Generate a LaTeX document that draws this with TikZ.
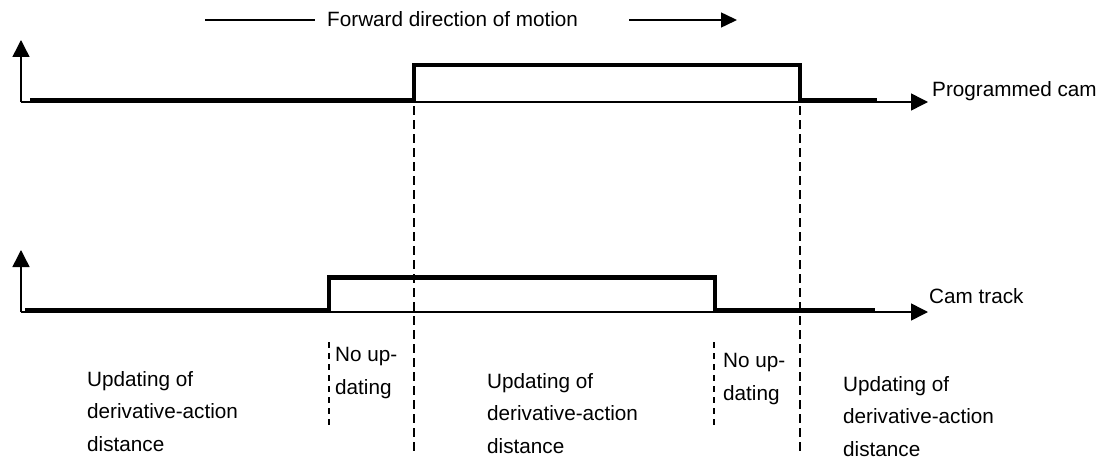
\documentclass[tikz,border=0pt]{standalone}
\usepackage{fontspec}
\setmainfont{Liberation Sans}
\usetikzlibrary{arrows.meta}
\begin{document}
\begin{tikzpicture}[x=1pt,y=-1pt,
  axis/.style={line width=1.5pt,-{Triangle[length=17pt,width=17pt]}},
  signal/.style={line width=4.5pt,line join=miter},
  bound/.style={line width=1.8pt,dash pattern=on 9pt off 5pt},
  subbound/.style={line width=1.3pt,dash pattern=on 6pt off 5pt},
  motion/.style={line width=1.5pt},
  lbl/.style={font=\fontsize{20.7}{32.5}\selectfont,inner sep=0pt,align=left,anchor=base west}]
\useasboundingbox (0,0) rectangle (1103,460);

% direction of motion
\node[lbl] (fwd) at (327,27) {Forward direction of motion};
\coordinate (fwdA) at (205,20);
\coordinate (fwdB) at (315,20);
\coordinate (fwdC) at (629,20);
\coordinate (fwdD) at (737,20);
\draw[motion] (fwdA) -- (fwdB);
\draw[motion,-{Triangle[length=16pt,width=15pt]}] (fwdC) -- (fwdD);

% programmed cam
\coordinate (o1) at (21,102);
\coordinate (y1) at (21,40);
\coordinate (x1) at (928,102);
\draw[axis] (o1) -- (y1);
\draw[axis] (o1) -- (x1);
\draw[signal] (30,100) -| (414,65) -| (800,100) -- (877,100);
\node[lbl] (prog) at (932,96) {Programmed cam};

% cam track
\coordinate (o2) at (21,312);
\coordinate (y2) at (21,250);
\coordinate (x2) at (928,312);
\draw[axis] (o2) -- (y2);
\draw[axis] (o2) -- (x2);
\draw[signal] (25,310) -| (329,277.5) -| (715,310) -- (875,310);
\node[lbl] (track) at (929,303) {Cam track};

% region boundaries
\draw[bound] (414,106) -- (414,452);
\draw[bound] (800,106) -- (800,452);
\draw[subbound] (329,342) -- (329,427);
\draw[subbound] (714,342) -- (714,427);

% region labels (anchored at the baseline of the last line)
\node[lbl] (upd1) at (87,451) {Updating of\\derivative-action\\distance};
\node[lbl] (upd2) at (487,453) {Updating of\\derivative-action\\distance};
\node[lbl] (upd3) at (843,456) {Updating of\\derivative-action\\distance};
\node[lbl] (noup1) at (335,394) {No up-\\dating};
\node[lbl] (noup2) at (723,400) {No up-\\dating};
\end{tikzpicture}
\end{document}
